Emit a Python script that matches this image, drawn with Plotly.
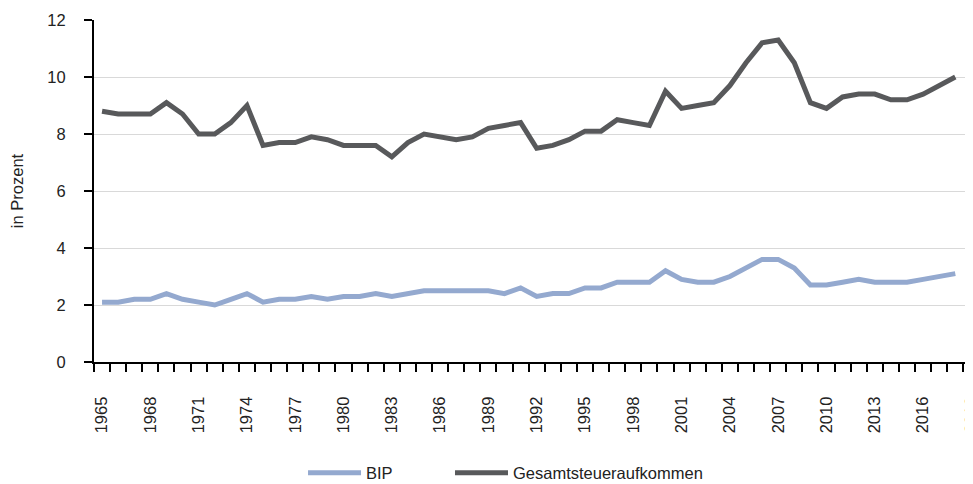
import plotly.graph_objects as go

years = list(range(1965, 2019))
bip = [2.1, 2.1, 2.2, 2.2, 2.4, 2.2, 2.1, 2.0, 2.2, 2.4,
       2.1, 2.2, 2.2, 2.3, 2.2, 2.3, 2.3, 2.4, 2.3, 2.4,
       2.5, 2.5, 2.5, 2.5, 2.5, 2.4, 2.6, 2.3, 2.4, 2.4,
       2.6, 2.6, 2.8, 2.8, 2.8, 3.2, 2.9, 2.8, 2.8, 3.0,
       3.3, 3.6, 3.6, 3.3, 2.7, 2.7, 2.8, 2.9, 2.8, 2.8,
       2.8, 2.9, 3.0, 3.1]
gesamt = [8.8, 8.7, 8.7, 8.7, 9.1, 8.7, 8.0, 8.0, 8.4, 9.0,
          7.6, 7.7, 7.7, 7.9, 7.8, 7.6, 7.6, 7.6, 7.2, 7.7,
          8.0, 7.9, 7.8, 7.9, 8.2, 8.3, 8.4, 7.5, 7.6, 7.8,
          8.1, 8.1, 8.5, 8.4, 8.3, 9.5, 8.9, 9.0, 9.1, 9.7,
          10.5, 11.2, 11.3, 10.5, 9.1, 8.9, 9.3, 9.4, 9.4, 9.2,
          9.2, 9.4, 9.7, 10.0]
tick_years = list(range(1965, 2020, 3))
minor_ticks = [y - 0.5 for y in range(1965, 2021)]

FONT = "Liberation Sans, Arial, sans-serif"
TXT = "#222222"
FS = 16.5

fig = go.Figure()
fig.add_trace(go.Scatter(x=years, y=bip, mode="lines", name="BIP",
                         line=dict(color="#94a9cf", width=5), legend="legend"))
fig.add_trace(go.Scatter(x=years, y=gesamt, mode="lines", name="Gesamtsteueraufkommen",
                         line=dict(color="#58595b", width=5), legend="legend2"))

leg_common = dict(orientation="h", y=-0.3246, yanchor="middle", xanchor="left",
                  itemwidth=53, font=dict(size=FS, color=TXT),
                  bgcolor="rgba(0,0,0,0)")

# page body has an 8px margin: offset the figure so the plot lands where it should
fig.update_layout(
    width=965, height=484,
    margin=dict(l=86, r=0, t=12, b=130),
    paper_bgcolor="white", plot_bgcolor="white",
    font=dict(family=FONT, size=FS, color=TXT),
    showlegend=True,
    legend=dict(x=0.2378, **leg_common),
    legend2=dict(x=0.405, **leg_common),
    xaxis=dict(range=[1964.5, 2019.1], tickmode="array", tickvals=tick_years,
               ticktext=[str(t) for t in tick_years], tickangle=-90,
               ticks="outside", ticklen=8, tickcolor="rgba(0,0,0,0)",
               ticklabelstandoff=18, ticklabeloverflow="allow",
               showline=True, linecolor="black", linewidth=2, showgrid=False,
               zeroline=False, automargin=False,
               tickfont=dict(size=FS, color=TXT),
               minor=dict(tickvals=minor_ticks, ticks="outside", ticklen=8,
                          tickwidth=2, tickcolor="black", showgrid=False)),
    yaxis=dict(range=[0, 12], dtick=2, ticks="outside", ticklen=8, tickwidth=2,
               tickcolor="black", showline=True, linecolor="black", linewidth=2,
               ticklabelstandoff=15,
               showgrid=True, gridcolor="#d9d9d9", gridwidth=1, zeroline=False,
               automargin=False, tickfont=dict(size=FS, color=TXT),
               title=dict(text="in Prozent", standoff=20, font=dict(size=FS, color=TXT))),
)

fig.write_html("out.html")
